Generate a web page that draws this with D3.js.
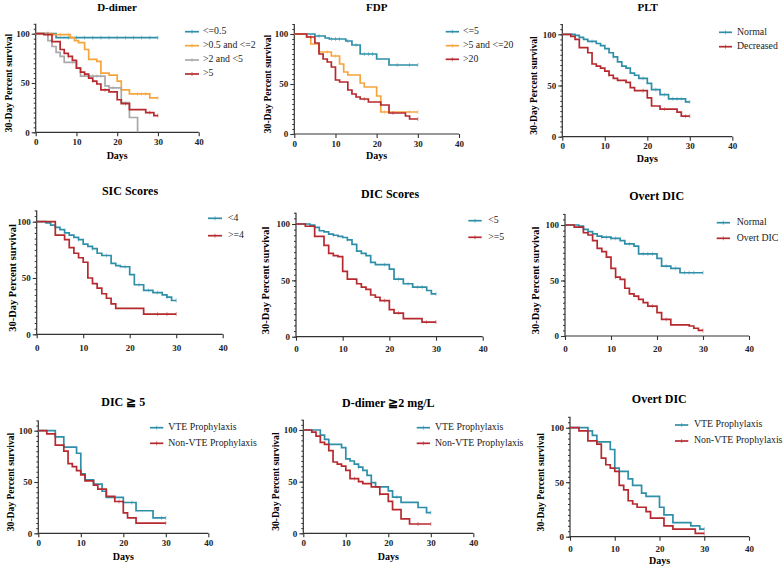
<!DOCTYPE html>
<html><head><meta charset="utf-8">
<script src="https://cdn.jsdelivr.net/npm/d3@7"></script>
<style>body{margin:0;background:#fff}svg{display:block}svg text{font-family:"Liberation Serif","Times New Roman",Times,serif}</style>
</head><body>
<svg id="c" width="783" height="570"></svg>
<script>
// ---------- DATA ----------
const xTicks = [0, 10, 20, 30, 40];
const yTicks = [0, 50, 100];
const titles = ["D-dimer", "FDP", "PLT", "SIC Scores", "DIC Scores", "Overt DIC", "DIC \u2267 5", "D-dimer \u22672 mg/L", "Overt DIC"];
const yLabel = "30-Day Percent survival";
const xLabel = "Days";

// 1 D-dimer
const ddNames = ["<=0.5", ">0.5 and <=2", ">2 and <5", ">5"];
const dd1 = [[0,100],[5,96],[30,96]];
const dd2 = [[0,100],[4,99],[8.5,96],[9.5,93],[10.5,91],[12,84],[13,74],[15,72],[16,60],[18,58],[20,52],[21,43],[23,39],[28,35],[30,35]];
const dd3 = [[0,100],[3,93],[4,87],[5,81],[6,77],[7,71],[10,65],[11,57],[17,47],[18,45],[21,30],[23,15],[25,0]];
const dd4 = [[0,100],[2,99],[4,92],[6,84],[7,80],[8,77],[9,73],[10,65],[11,61],[12,59],[13,55],[14,52],[15,49],[16,43],[18,41],[20,33],[21,29],[23,23],[27,20],[29,17],[30,17]];
const dd1c = [3,8,10,12,14,16,18,20,22,24,26,28,30];
const dd2c = [3,6,8,25,26,27,30];
const dd3c = [9,14,15,16,19];
const dd4c = [3,8,12,14,17,22,28,30];

// 2 FDP
const fdpNames = ["<=5", ">5 and <=20", ">20"];
const fdp1 = [[0,100],[5,98],[7.5,96],[8.5,95],[12.5,93],[14,89],[16,80],[20,75],[23,69],[30,69]];
const fdp2 = [[0,100],[3,97],[4,90],[6,82],[9,78],[11,70],[12,62],[13,59],[16,51],[17,47],[20,38],[21,22],[30,22]];
const fdp3 = [[0,100],[3,97],[5,91],[6,80],[7,75],[8,72],[9,67],[10,54],[11,52],[13,44],[14,40],[15,37],[16,35],[18,32],[21,29],[23,21],[27,18],[28,15],[30,15]];
const fdp1c = [6,9,10,11,13,15,17,18,19,25,28,30];
const fdp2c = [8,10,22,28,30];
const fdp3c = [4,17,24,30];

// 3 PLT
const pltNames = ["Normal", "Decreased"];
const plt1 = [[0,100],[3,99],[4,97],[5,95],[6,93],[8,91],[9,89],[10,86],[11,82],[12,78],[13,73],[14,69],[15,67],[16,62],[17,60],[18,57],[20,52],[21,46],[23,41],[25,37],[29,34],[30,34]];
const plt2 = [[0,100],[2,98],[3,95],[4,87],[6,82],[7,71],[8,69],[9,67],[10,64],[11,60],[12,57],[13,55],[15,53],[16,48],[17,45],[20,38],[21,30],[23,27],[27,24],[28,20],[30,20]];
const plt1c = [7,12,19,22,24,26,27,28,30];
const plt2c = [11,19,24,29,30];

// 4 SIC Scores
const sicNames = ["<4", ">=4"];
const sic1 = [[0,100],[2,99],[3,97],[4,95],[5,93],[6,90],[7,88],[8,86],[9,84],[10,80],[11,78],[12,76],[13,72],[14,70],[16,63],[17,61],[18,60],[20,53],[21,44],[23,39],[25,37],[27,35],[28,33],[29,30],[30,30]];
const sic2 = [[0,100],[4,88],[6,84],[7,77],[8,72],[9,68],[10,64],[11,50],[12,45],[13,41],[14,36],[15,32],[16,27],[17,23],[23,18],[30,18]];
const sic1c = [9,12,15,19,22,24,26,28,30];
const sic2c = [26,28,30];

// 5 DIC Scores
const dicNames = ["<5", ">=5"];
const dic1 = [[0,100],[3,99],[4,97],[5,94],[6,93],[7,91],[8,90],[9,89],[10,88],[11,86],[12,82],[13,76],[14,74],[15,72],[16,66],[17,64],[20,60],[21,51],[23,47],[25,44],[28,41],[29,38],[30,38]];
const dic2 = [[0,100],[2,98],[4,89],[6,81],[7,74],[8,72],[9,71],[10,58],[11,51],[13,47],[14,44],[15,42],[16,37],[17,35],[18,32],[20,24],[21,21],[23,16],[27,13],[30,13]];
const dic1c = [8,11,19,22,24,26,27,30];
const dic2c = [19,22,28,30];

// 6 Overt DIC
const ovNames = ["Normal", "Overt DIC"];
const ov1 = [[0,100],[3,99],[4,96],[5,94],[6,92],[7,90],[8,89],[10,88],[12,86],[13,83],[15,81],[16,74],[20,70],[21,63],[23,61],[25,57],[30,57]];
const ov2 = [[0,100],[2,98],[4,93],[5,91],[6,86],[7,79],[8,76],[9,71],[10,61],[11,53],[12,51],[13,43],[14,38],[15,36],[16,33],[17,30],[18,27],[20,21],[21,15],[23,10],[27,9],[28,7],[29,5],[30,5]];
const ov1c = [8,9,10,11,14,17,18,19,22,24,26,27,28,30];
const ov2c = [11,19,22,30];

// 7 DIC >= 5
const vteNames = ["VTE Prophylaxis", "Non-VTE Prophylaxis"];
const d5a = [[0,100],[4,94],[6,84],[9,78],[10,58],[11,52],[13,48],[15,41],[16,35],[20,30],[23,22],[27,15],[30,15]];
const d5b = [[0,100],[2,97],[4,86],[6,80],[7,68],[8,65],[9,61],[10,57],[11,51],[13,47],[14,43],[16,36],[18,31],[20,20],[21,15],[23,10],[30,10]];
const d5ac = [22,29,30];
const d5bc = [19,30];

// 8 D-dimer >= 2 mg/L
const dd2a = [[0,100],[4,95],[5,91],[6,86],[9,83],[10,72],[11,70],[12,67],[13,64],[14,61],[15,56],[16,49],[17,45],[20,41],[21,35],[23,30],[27,25],[29,20],[30,20]];
const dd2b = [[0,100],[2,98],[3,94],[4,88],[5,86],[6,80],[7,69],[8,67],[9,65],[10,61],[11,53],[13,50],[14,48],[16,45],[18,38],[20,31],[21,23],[23,14],[25,9],[30,9]];
const dd2ac = [13,22,30];
const dd2bc = [12,18,27,30];

// 9 Overt DIC (VTE)
const ova = [[0,100],[4,97],[5,93],[6,87],[9,80],[10,63],[11,60],[13,53],[14,47],[16,40],[17,37],[20,27],[21,20],[23,13],[27,10],[29,7],[30,7]];
const ovb = [[0,100],[2,97],[4,88],[6,85],[7,72],[8,66],[9,63],[10,60],[11,47],[12,43],[13,33],[14,30],[15,27],[17,23],[18,17],[21,10],[23,7],[28,3],[30,3]];
const ovac = [30];
const ovbc = [30];

// ---------- STYLE / LAYOUT ----------
const TEAL = "#2f8fa9", ORANGE = "#f6a43c", GRAY = "#a9a9a9", RED = "#b62a2f";
const layout = [
 {x0:35.7, x1:198.7, yt:33.7, yb:132.3, tx:117, ty:11, tk:143, dy:157, yl:9.5, lx1:185, lx2:199, ltx:203, ly:[31.7,45.7,60,74], tf:11, days:true},
 {x0:294.3,x1:459, yt:34, yb:134, tx:376.7, ty:11, tk:145, dy:157, yl:268.5, lx1:445.7, lx2:459, ltx:463, ly:[31.7,45.7,59.3], tf:11, days:true},
 {x0:562.3,x1:732.3, yt:34.3, yb:136.7, tx:647.7, ty:11, tk:147, dy:160, yl:535, lx1:719, lx2:732, ltx:737, ly:[32.3,46.7], tf:11, days:true},
 {x0:36.7, x1:222.7, yt:221.7, yb:334.3, tx:130, ty:195, tk:349, yl:14, lx1:208, lx2:222, ltx:228, ly:[218.3,235.7], tf:12, days:false},
 {x0:296, x1:482.7, yt:224, yb:336.7, tx:390, ty:198, tk:350, yl:266.7, lx1:468.3, lx2:481.7, ltx:488.3, ly:[220.7,237.3], tf:12, days:false},
 {x0:565, x1:749, yt:225, yb:336, tx:656.7, ty:199.5, tk:350, yl:536.7, lx1:716.7, lx2:730, ltx:736.7, ly:[222.7,238.3], tf:12, days:false},
 {x0:38.3, x1:208.3, yt:430.7, yb:533.3, tx:123.3, ty:406, tk:543.5, dy:558, yl:11.7, lx1:150, lx2:163.3, ltx:168.3, ly:[427.7,443.3], tf:12, days:true},
 {x0:303.3,x1:473.3, yt:430, yb:533.3, tx:388.3, ty:407, tk:543.5, dy:558, yl:276.7, lx1:416.7, lx2:430, ltx:435, ly:[427.7,443.3], tf:12, days:true},
 {x0:570, x1:749, yt:427.7, yb:536.7, tx:659.3, ty:403, tk:549.5, dy:562, yl:541.7, lx1:675, lx2:688.3, ltx:694, ly:[425,441], tf:12, days:true}
];

const panels = [
 {names: ddNames, series:[dd1,dd2,dd3,dd4], cens:[dd1c,dd2c,dd3c,dd4c], colors:[TEAL,ORANGE,GRAY,RED]},
 {names: fdpNames, series:[fdp1,fdp2,fdp3], cens:[fdp1c,fdp2c,fdp3c], colors:[TEAL,ORANGE,RED]},
 {names: pltNames, series:[plt1,plt2], cens:[plt1c,plt2c], colors:[TEAL,RED]},
 {names: sicNames, series:[sic1,sic2], cens:[sic1c,sic2c], colors:[TEAL,RED]},
 {names: dicNames, series:[dic1,dic2], cens:[dic1c,dic2c], colors:[TEAL,RED]},
 {names: ovNames, series:[ov1,ov2], cens:[ov1c,ov2c], colors:[TEAL,RED]},
 {names: vteNames, series:[d5a,d5b], cens:[d5ac,d5bc], colors:[TEAL,RED]},
 {names: vteNames, series:[dd2a,dd2b], cens:[dd2ac,dd2bc], colors:[TEAL,RED]},
 {names: vteNames, series:[ova,ovb], cens:[ovac,ovbc], colors:[TEAL,RED]}
];

const svg = d3.select("#c");
const FONT = "'Liberation Serif','Times New Roman',serif";
const AX = "#333";

function survAt(s, t){ let v = s[0][1]; for (const p of s){ if (p[0] <= t) v = p[1]; } return v; }

panels.forEach((p, i) => {
  const L = layout[i];
  const x = d3.scaleLinear().domain([0,40]).range([L.x0, L.x1]);
  const y = d3.scaleLinear().domain([0,100]).range([L.yb, L.yt]);
  const g = svg.append("g");

  g.append("text").attr("x", L.tx).attr("y", L.ty).attr("text-anchor","middle")
    .attr("font-family", FONT).attr("font-weight","bold").attr("font-size", L.tf).text(titles[i]);

  const ya = g.append("g").attr("transform", `translate(${L.x0},0)`);
  const yExt = d3.scaleLinear().domain([0,110]).range([L.yb, y(110)]);
  ya.append("g").call(d3.axisLeft(yExt).tickValues(d3.range(0,111,5)).tickSize(2).tickFormat(""))
    .call(s => { s.selectAll("line").attr("stroke", AX);
      s.select(".domain").attr("stroke", AX).attr("stroke-width", 1.2).attr("d", `M0,${L.yb}V${y(110)}`); });
  ya.append("g").call(d3.axisLeft(y).tickValues(yTicks).tickSize(4).tickPadding(2))
    .call(s => { s.select(".domain").remove(); s.selectAll("line").attr("stroke", AX).attr("stroke-width", 1.1);
      s.selectAll("text").attr("font-family", FONT).attr("font-weight","bold").attr("font-size", 9).attr("fill","#222"); });

  const xa = g.append("g").attr("transform", `translate(0,${L.yb})`)
    .call(d3.axisBottom(x).tickValues(xTicks).tickSize(4).tickPadding(2));
  xa.select(".domain").attr("d", `M${L.x0},0H${L.x1}`).attr("stroke", AX).attr("stroke-width", 1.2);
  xa.selectAll("line").attr("stroke", AX).attr("stroke-width", 1.1);
  xa.selectAll("text").attr("font-family", FONT).attr("font-weight","bold").attr("font-size", 9).attr("fill","#222")
    .attr("dy", null).attr("y", L.tk - L.yb).attr("dominant-baseline","middle");

  if (L.days) {
    g.append("text").attr("x", x(20)).attr("y", L.dy)
      .attr("text-anchor","middle").attr("dominant-baseline","middle")
      .attr("font-family", FONT).attr("font-weight","bold").attr("font-size", 10).text(xLabel);
  }
  g.append("text").attr("transform", `translate(${L.yl},${(L.yt+L.yb)/2}) rotate(-90)`)
    .attr("text-anchor","middle").attr("dominant-baseline","middle")
    .attr("font-family", FONT).attr("font-weight","bold").attr("font-size", i>=3 && i<=5 ? 10.5 : 9.6).text(yLabel);

  const line = d3.line().x(d => x(d[0])).y(d => y(d[1])).curve(d3.curveStepAfter);
  p.series.forEach((s, k) => {
    g.append("path").attr("d", line(s)).attr("fill","none").attr("stroke", p.colors[k]).attr("stroke-width", 1.7);
    p.cens[k].forEach(t => {
      const v = survAt(s, t);
      g.append("line").attr("x1", x(t)).attr("x2", x(t)).attr("y1", y(v)-2).attr("y2", y(v)+2)
        .attr("stroke", p.colors[k]).attr("stroke-width", 0.6).attr("opacity", 0.8);
    });
  });

  p.names.forEach((n, k) => {
    const ly = L.ly[k];
    g.append("line").attr("x1", L.lx1).attr("x2", L.lx2).attr("y1", ly).attr("y2", ly)
      .attr("stroke", p.colors[k]).attr("stroke-width", 1.7);
    g.append("line").attr("x1", (L.lx1+L.lx2)/2).attr("x2", (L.lx1+L.lx2)/2).attr("y1", ly-2).attr("y2", ly+2)
      .attr("stroke", p.colors[k]).attr("stroke-width", 0.6);
    g.append("text").attr("x", L.ltx).attr("y", ly).attr("dominant-baseline","middle")
      .attr("font-family", FONT).attr("font-size", 9.8).attr("fill","#222").text(n);
  });
});
</script>
</body></html>
